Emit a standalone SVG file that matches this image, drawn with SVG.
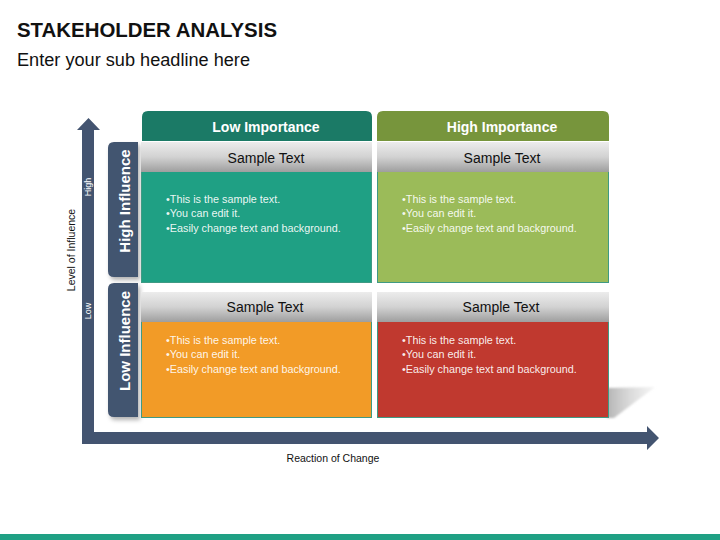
<svg xmlns="http://www.w3.org/2000/svg" width="720" height="540" viewBox="0 0 720 540">
<defs>
<linearGradient id="bar" x1="0" y1="0" x2="0" y2="1">
<stop offset="0" stop-color="#ececec"/>
<stop offset="0.5" stop-color="#d2d2d2"/>
<stop offset="1" stop-color="#9e9e9e"/>
</linearGradient>
<linearGradient id="shad" x1="0" y1="0" x2="1" y2="0">
<stop offset="0" stop-color="#b4b4b4"/>
<stop offset="1" stop-color="#e4e4e4" stop-opacity="0.4"/>
</linearGradient>
<filter id="ds" x="-20%" y="-20%" width="150%" height="150%">
<feDropShadow dx="2" dy="3" stdDeviation="2" flood-color="#000" flood-opacity="0.3"/>
</filter>
<filter id="blur" x="-10%" y="-10%" width="120%" height="120%">
<feGaussianBlur stdDeviation="1"/>
</filter>
</defs>
<style>
.t{font-family:"Liberation Sans",Arial,sans-serif}
.hdr{font-size:14px;font-weight:bold;fill:#fff;text-anchor:middle}
.st{font-size:14px;fill:#111;text-anchor:middle}
.bl{font-size:10.8px;fill:#fff;fill-opacity:0.92}
.tab{fill:#435470}
.tabt{font-size:15px;font-weight:bold;fill:#fff;text-anchor:middle}
.ax{fill:#435470}
.body{stroke:#3f9a84;stroke-width:1}
</style>
<rect width="720" height="540" fill="#fff"/>
<text class="t" x="17" y="37" font-size="20" font-weight="bold" fill="#111" textLength="260" lengthAdjust="spacingAndGlyphs">STAKEHOLDER ANALYSIS</text>
<text class="t" x="17" y="66" font-size="17.5" fill="#111" textLength="233" lengthAdjust="spacingAndGlyphs">Enter your sub headline here</text>

<g id="axes">
<path class="ax" d="M82,130 L77,130 L88.5,118 L100,130 L94,130 L94,432 L647,432 L647,426 L659,438 L647,450 L647,444 L82,444 Z"/>
<text class="t" x="0" y="0" font-size="9" fill="#fff" text-anchor="middle" transform="translate(91,187) rotate(-90)">High</text>
<text class="t" x="0" y="0" font-size="9" fill="#fff" text-anchor="middle" transform="translate(91,311) rotate(-90)">Low</text>
<text class="t" x="0" y="0" font-size="10.5" fill="#111" text-anchor="middle" transform="translate(75,250) rotate(-90)">Level of Influence</text>
<text class="t" x="333" y="462" font-size="10.5" fill="#111" text-anchor="middle">Reaction of Change</text>
</g>

<polygon points="607,388 655,387 614,418 607,418" fill="url(#shad)" filter="url(#blur)"/>

<g id="tab-high">
<path class="tab" d="M138,142 L114,142 Q108,142 108,148 L108,271 Q108,277 114,277 L138,277 Z" filter="url(#ds)"/>
<text class="t tabt" transform="translate(130,201) rotate(-90)">High Influence</text>
</g>
<g id="tab-low">
<path class="tab" d="M138,283 L114,283 Q108,283 108,289 L108,411 Q108,417 114,417 L138,417 Z" filter="url(#ds)"/>
<text class="t tabt" transform="translate(130,341) rotate(-90)">Low Influence</text>
</g>

<g id="hdr-low">
<path d="M142,141 L142,117 Q142,111 148,111 L366,111 Q372,111 372,117 L372,141 Z" fill="#1b7a66"/>
<text class="t hdr" x="266" y="132">Low Importance</text>
</g>
<g id="hdr-high">
<path d="M377,141 L377,117 Q377,111 383,111 L603,111 Q609,111 609,117 L609,141 Z" fill="#77953c"/>
<text class="t hdr" x="502" y="132">High Importance</text>
</g>

<g id="q-tl">
<rect class="body" x="141.5" y="171.5" width="230" height="111" fill="#1fa084"/>
<rect x="141" y="142" width="231" height="30" fill="url(#bar)"/>
<text class="t st" x="266" y="163">Sample Text</text>
<text class="t bl" x="166" y="203">•This is the sample text.</text>
<text class="t bl" x="166" y="217">•You can edit it.</text>
<text class="t bl" x="166" y="232">•Easily change text and background.</text>
</g>
<g id="q-tr">
<rect class="body" x="377.5" y="171.5" width="231" height="111" fill="#9bbb59"/>
<rect x="377" y="142" width="232" height="30" fill="url(#bar)"/>
<text class="t st" x="502" y="163">Sample Text</text>
<text class="t bl" x="402" y="203">•This is the sample text.</text>
<text class="t bl" x="402" y="217">•You can edit it.</text>
<text class="t bl" x="402" y="232">•Easily change text and background.</text>
</g>
<g id="q-bl">
<rect class="body" x="141.5" y="321.5" width="230" height="96" fill="#f29b27"/>
<rect x="141" y="292" width="231" height="30" fill="url(#bar)"/>
<text class="t st" x="265" y="312">Sample Text</text>
<text class="t bl" x="166" y="344">•This is the sample text.</text>
<text class="t bl" x="166" y="358">•You can edit it.</text>
<text class="t bl" x="166" y="373">•Easily change text and background.</text>
</g>
<g id="q-br">
<rect class="body" x="377.5" y="321.5" width="231" height="96" fill="#c0392f"/>
<rect x="377" y="292" width="232" height="30" fill="url(#bar)"/>
<text class="t st" x="501" y="312">Sample Text</text>
<text class="t bl" x="402" y="344">•This is the sample text.</text>
<text class="t bl" x="402" y="358">•You can edit it.</text>
<text class="t bl" x="402" y="373">•Easily change text and background.</text>
</g>

<rect x="0" y="534" width="720" height="6" fill="#1fa084"/>
</svg>
